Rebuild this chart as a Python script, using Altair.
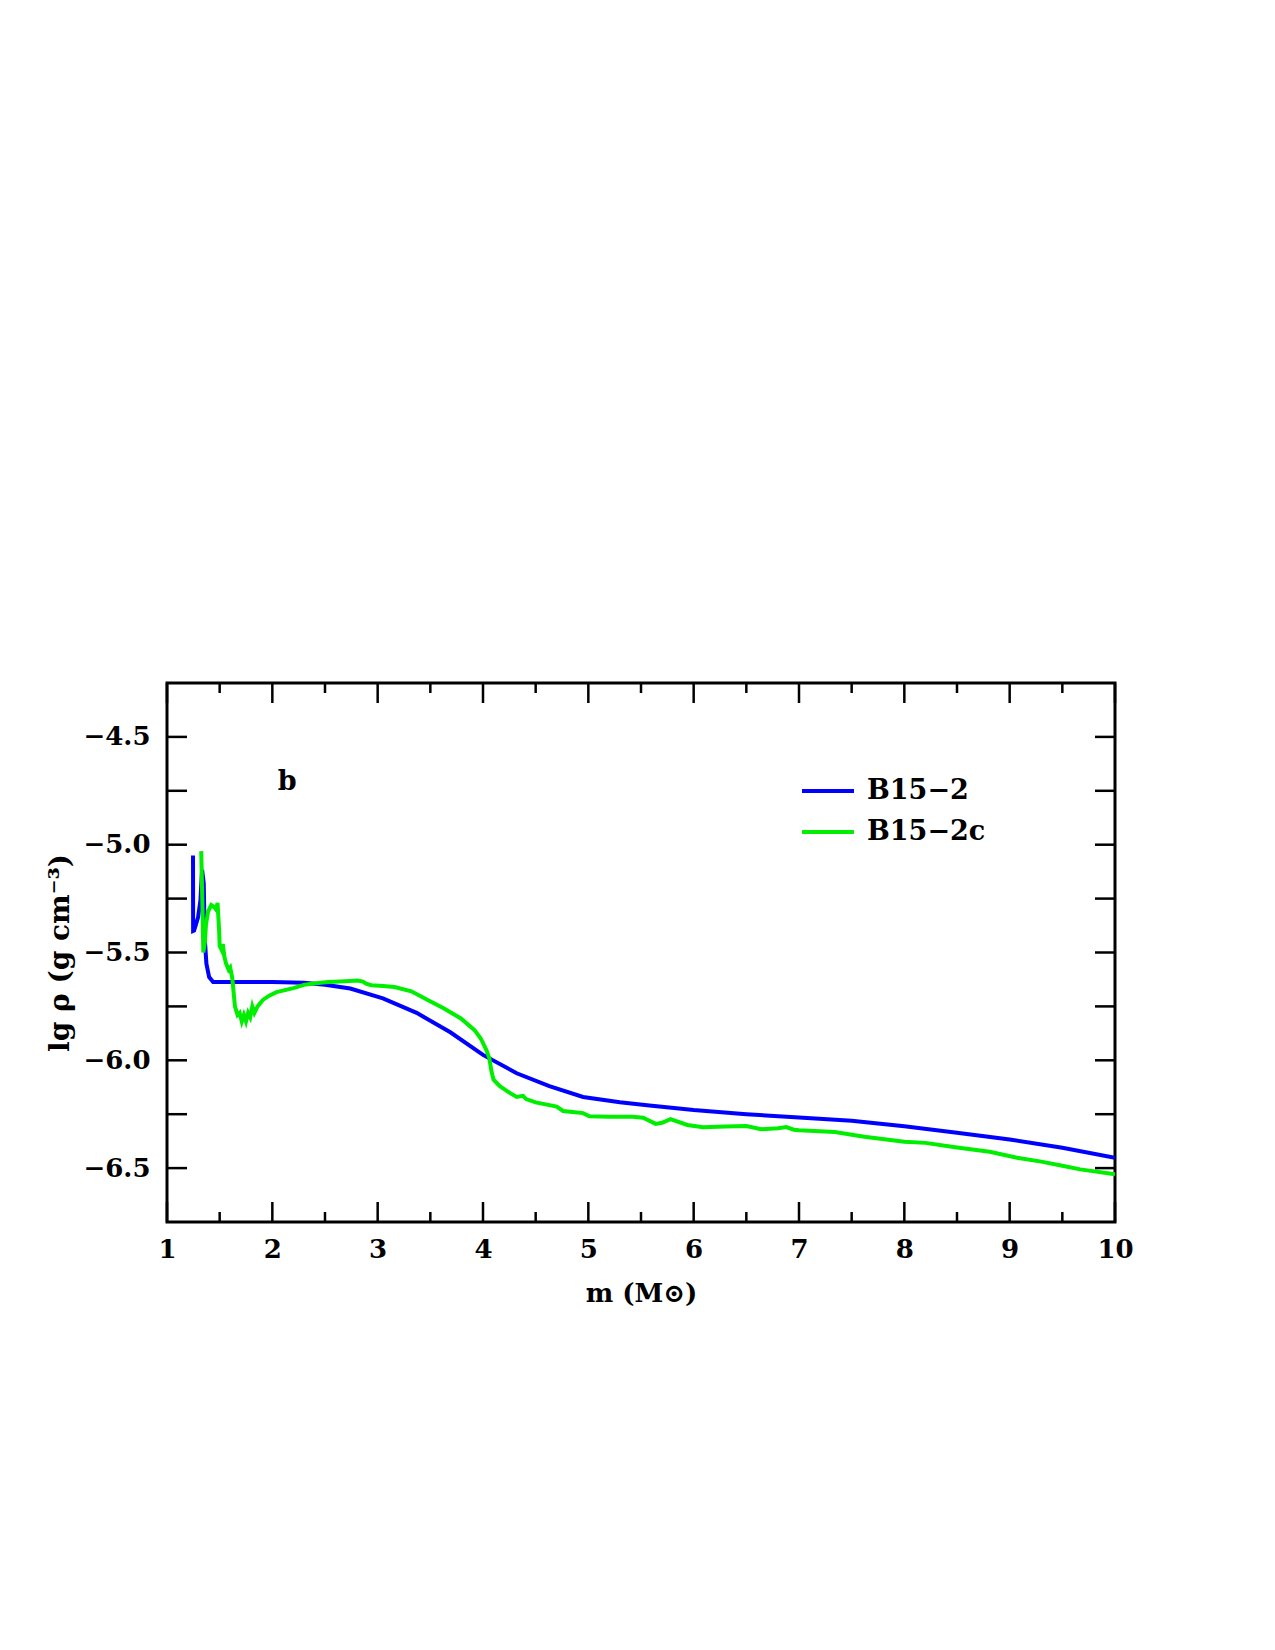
import altair as alt
import pandas as pd

# ---------------- data ----------------
b_m = [1.247, 1.248, 1.257, 1.275, 1.295, 1.317, 1.333, 1.349, 1.358, 1.374, 1.40, 1.438,
       1.6, 2.0, 2.3, 2.5, 2.74, 3.05, 3.37, 3.69, 4.0, 4.32, 4.63, 4.95, 5.3, 5.58,
       6.0, 6.5, 7.0, 7.5, 8.0, 8.5, 9.0, 9.5, 10.0]
b_rho = [-5.05, -5.40, -5.398, -5.37, -5.337, -5.26, -5.116, -5.18, -5.43, -5.552, -5.614, -5.637,
         -5.637, -5.637, -5.64, -5.65, -5.667, -5.713, -5.78, -5.87, -5.975, -6.06, -6.12, -6.17, -6.195, -6.21,
         -6.231, -6.25, -6.265, -6.28, -6.306, -6.336, -6.367, -6.406, -6.452]

g_m = [1.325, 1.335, 1.345, 1.36, 1.37, 1.39, 1.42, 1.45, 1.465, 1.48, 1.495, 1.50, 1.52, 1.53,
       1.545, 1.56, 1.585, 1.60, 1.62, 1.645, 1.67, 1.69, 1.71, 1.73, 1.75, 1.77, 1.79, 1.81,
       1.83, 1.86, 1.91, 1.97, 2.04, 2.10, 2.20, 2.30, 2.37, 2.53, 2.69, 2.81, 2.86, 2.89, 2.94,
       3.05, 3.16, 3.32, 3.48, 3.63, 3.79, 3.92, 3.98, 4.03, 4.06, 4.08, 4.10, 4.16, 4.25, 4.32,
       4.38, 4.41, 4.50, 4.63, 4.70, 4.76, 4.85, 4.95, 5.01, 5.2, 5.42, 5.52, 5.64, 5.70, 5.78,
       5.94, 6.09, 6.3, 6.5, 6.64, 6.80, 6.88, 6.95, 7.0, 7.34, 7.62, 8.0, 8.2, 8.5, 8.81, 9.07,
       9.3, 9.5, 9.67, 10.0]
g_rho = [-5.03, -5.25, -5.50, -5.45, -5.37, -5.31, -5.28, -5.29, -5.30, -5.27, -5.40, -5.47, -5.49, -5.46,
         -5.52, -5.55, -5.58, -5.57, -5.62, -5.75, -5.79, -5.78, -5.82, -5.79, -5.82, -5.78, -5.80, -5.75,
         -5.78, -5.75, -5.72, -5.70, -5.684, -5.677, -5.665, -5.65, -5.645, -5.637, -5.633, -5.63, -5.635, -5.645, -5.652,
         -5.655, -5.66, -5.68, -5.722, -5.76, -5.806, -5.86, -5.90, -5.95, -5.99, -6.05, -6.09, -6.12, -6.15, -6.17,
         -6.165, -6.18, -6.195, -6.208, -6.215, -6.235, -6.24, -6.245, -6.26, -6.262, -6.262, -6.266, -6.295, -6.29, -6.273,
         -6.30, -6.31, -6.307, -6.305, -6.32, -6.315, -6.31, -6.322, -6.324, -6.333, -6.355, -6.378, -6.383, -6.404, -6.424, -6.452,
         -6.47, -6.489, -6.506, -6.529]

series_names = ["B15\u22122", "B15\u22122c"]
series_colors = ["#0000ff", "#00ee00"]

x_major = [1, 2, 3, 4, 5, 6, 7, 8, 9, 10]
x_minor = [1.5, 2.5, 3.5, 4.5, 5.5, 6.5, 7.5, 8.5, 9.5]
y_labels = [-6.5, -6.0, -5.5, -5.0, -4.5]
y_ticks = [-6.5, -6.25, -6.0, -5.75, -5.5, -5.25, -5.0, -4.75, -4.5]

panel_text = ["b"]
panel_x = [2.14]
panel_y = [-4.71]

x_title = "m (M\u2299)"
y_title = "lg \u03c1 (g cm\u207b\u00b3)"

# ---------------- build tables ----------------
df = pd.concat([
    pd.DataFrame({"m": b_m, "rho": b_rho, "series": series_names[0], "idx": range(len(b_m))}),
    pd.DataFrame({"m": g_m, "rho": g_rho, "series": series_names[1], "idx": range(len(g_m))}),
])
df_xmaj = pd.DataFrame({"m": x_major})
df_xmin = pd.DataFrame({"m": x_minor})
df_y = pd.DataFrame({"rho": y_ticks})
df_txt = pd.DataFrame({"m": panel_x, "rho": panel_y, "t": panel_text})

W, H = 948, 539
FONT = "DejaVu Serif"
FS = 26
FW = "bold"
xs = alt.Scale(domain=[1, 10], nice=False, zero=False)
ys = alt.Scale(domain=[-6.75, -4.25], nice=False, zero=False)

x_axis = alt.Axis(
    values=x_major, format="d", title=x_title, ticks=False, grid=False, domain=False,
    labelFlush=False, labelOverlap=False,
    labelFont=FONT, labelFontSize=FS, labelFontWeight=FW, labelColor="black", labelPadding=14,
    titleFont=FONT, titleFontSize=FS, titleFontWeight=FW, titleColor="black", titlePadding=18)
y_axis = alt.Axis(
    values=y_labels, format=".1f", title=y_title, ticks=False, grid=False, domain=False,
    labelFlush=False, labelOverlap=False,
    labelFont=FONT, labelFontSize=FS, labelFontWeight=FW, labelColor="black", labelPadding=17,
    titleFont=FONT, titleFontSize=28, titleFontWeight=FW, titleColor="black", titlePadding=8)

X = alt.X("m:Q", scale=xs, axis=x_axis, title=x_title)
Y = alt.Y("rho:Q", scale=ys, axis=y_axis, title=y_title)

lines = alt.Chart(df).mark_line(strokeWidth=4, clip=True).encode(
    x=X, y=Y,
    color=alt.Color("series:N", scale=alt.Scale(domain=series_names, range=series_colors),
                    legend=alt.Legend(orient="none", legendX=633, legendY=80, title=None,
                                      symbolType="stroke", symbolSize=2704, symbolStrokeWidth=4,
                                      labelFont=FONT, labelFontSize=27, labelFontWeight=FW,
                                      labelColor="black",
                                      labelOffset=11, rowPadding=-5, padding=0)),
    order="idx:Q",
)

TK = dict(color="black", strokeWidth=2.5)
bot_major = alt.Chart(df_xmaj).mark_rule(**TK).encode(x=X, y=alt.value(H), y2=alt.value(H - 20))
top_major = alt.Chart(df_xmaj).mark_rule(**TK).encode(x=X, y=alt.value(0), y2=alt.value(20))
bot_minor = alt.Chart(df_xmin).mark_rule(**TK).encode(x=X, y=alt.value(H), y2=alt.value(H - 10))
top_minor = alt.Chart(df_xmin).mark_rule(**TK).encode(x=X, y=alt.value(0), y2=alt.value(10))
left_t = alt.Chart(df_y).mark_rule(**TK).encode(y=Y, x=alt.value(0), x2=alt.value(20))
right_t = alt.Chart(df_y).mark_rule(**TK).encode(y=Y, x=alt.value(W), x2=alt.value(W - 20))

label = alt.Chart(df_txt).mark_text(font=FONT, fontSize=27, fontWeight=FW, color="black").encode(
    x=X, y=Y, text="t:N")

chart = alt.layer(lines, bot_major, top_major, bot_minor, top_minor, left_t, right_t, label).properties(
    width=W, height=H,
    autosize=alt.AutoSizeParams(type="none"),
    padding={"left": 167, "top": 683, "right": 1275 - 167 - W, "bottom": 1650 - 683 - H},
    background="white",
).configure_view(stroke="black", strokeWidth=3)

chart.save("out.html", embed_options={"renderer": "svg", "actions": False})
